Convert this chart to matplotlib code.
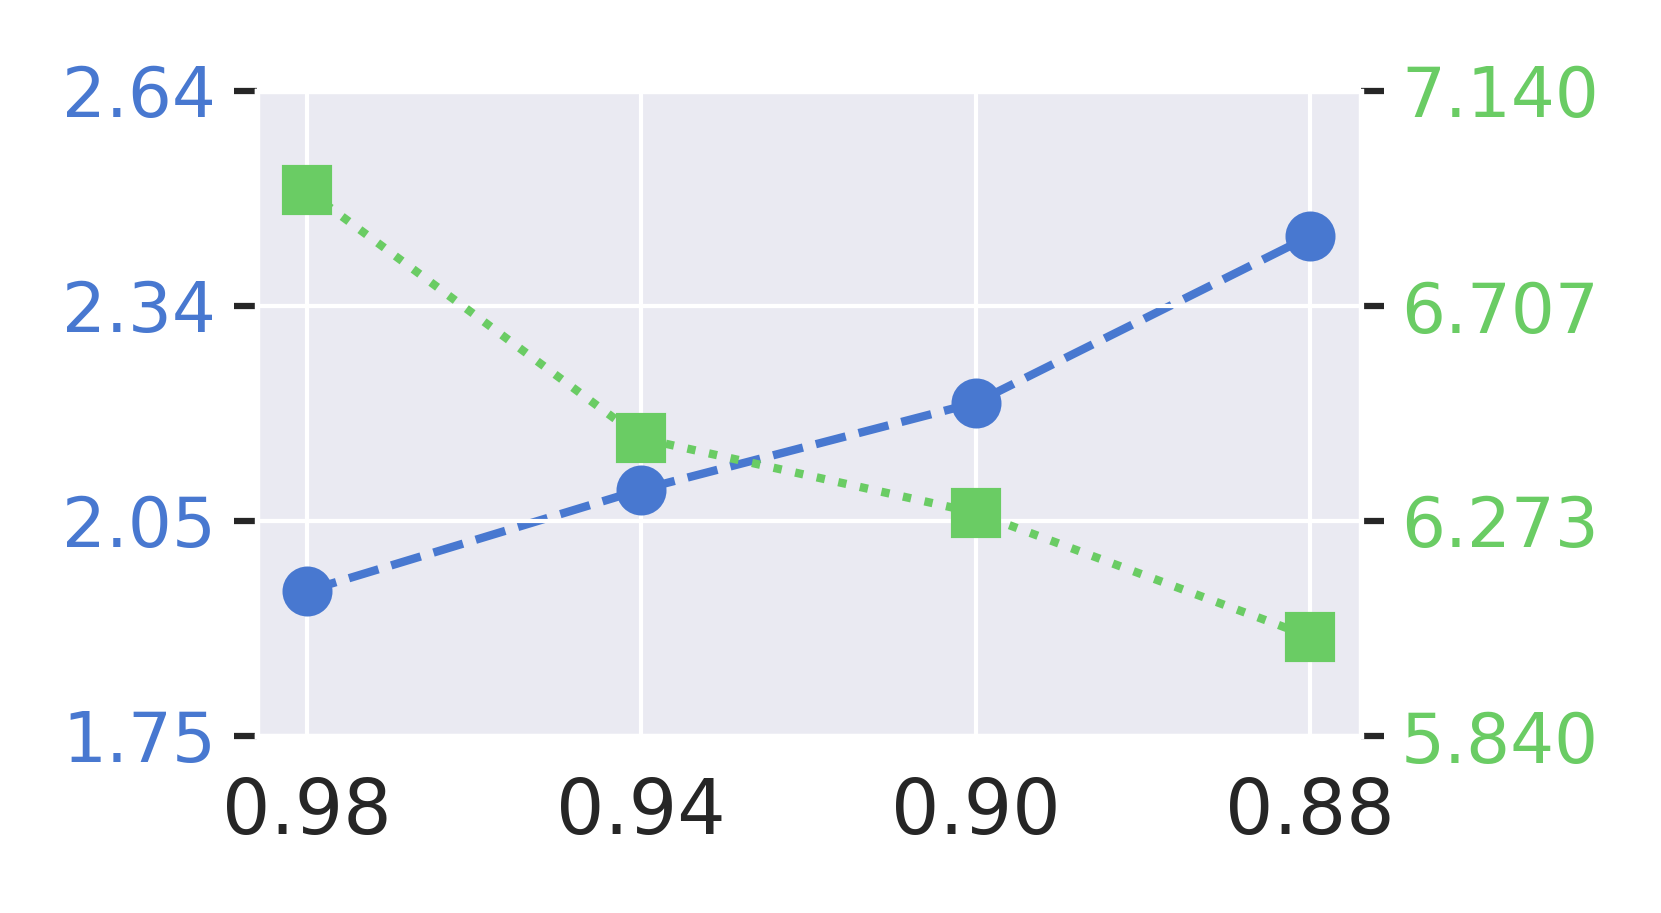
import numpy as np
import matplotlib
matplotlib.use("Agg")
import matplotlib.pyplot as plt
import seaborn as sns

categories = ["0.98", "0.94", "0.90", "0.88"]
left_values = [1.95, 2.09, 2.21, 2.44]
right_values = [6.94, 6.44, 6.29, 6.04]
left_lim = (1.75, 2.64)
right_lim = (5.84, 7.14)

sns.set_theme(style="darkgrid")
plt.rcParams['font.family'] = ['DejaVu Sans']

blue = "#4878D0"
green = "#6ACC64"

fig = plt.figure(figsize=(1661/300, 913/300), dpi=300)
ax = fig.add_axes([256.5/1661, 1-736/913, (1360.5-256.5)/1661, (736-91)/913])
x = np.arange(len(categories))
ax.plot(x, left_values, color=blue, linestyle="--", linewidth=2, marker="o", markersize=11)
ax.set_xticks(x)
ax.set_xticklabels(categories)
ax.set_ylim(*left_lim)
ax.set_yticks(np.linspace(*left_lim, 4))
ax.set_yticklabels([f"{v:.2f}" for v in np.linspace(*left_lim, 4)])
ax.tick_params(axis="x", labelsize=18.3, length=0, pad=9.5, colors="#262626")
ax.tick_params(axis="y", labelsize=16.6, length=5.5, width=1.5, pad=4.2, color="#262626", labelcolor=blue)

ax2 = ax.twinx()
ax2.plot(x, right_values, color=green, linestyle=":", linewidth=2, marker="s", markersize=11)
ax2.set_ylim(*right_lim)
ax2.set_yticks(np.linspace(*right_lim, 4))
ax2.set_yticklabels([f"{v:.3f}" for v in np.linspace(*right_lim, 4)])
ax2.tick_params(axis="y", labelsize=16.6, length=5.5, width=1.5, pad=4.2, color="#262626", labelcolor=green)
ax.set_xlim(-0.15, 3.15)

fig.savefig("out.png", dpi=300)
